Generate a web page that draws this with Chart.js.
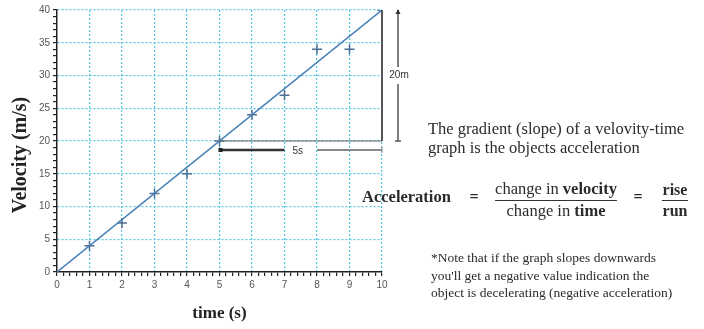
<!DOCTYPE html>
<html>
<head>
<meta charset="utf-8">
<script src="https://cdn.jsdelivr.net/npm/chart.js@4/dist/chart.umd.min.js"></script>
<style>
  html, body { margin: 0; padding: 0; background: #fff; }
  #wrap { width: 704px; height: 329px; }
</style>
</head>
<body>
<div id="wrap"><canvas id="vtChart" width="704" height="329"></canvas></div>
<script>
// measured velocity readings (m/s) at each second
const times = [1, 2, 3, 4, 5, 6, 7, 8, 9, 10];
const velocities = [4, 7.5, 12, 15, 20, 24, 27, 34, 34, 40];
// straight line of best fit
const fitTimes = [0, 10];
const fitVelocities = [0, 40];
// rise / run triangle
const runFrom = 5, runTo = 10;
const riseFrom = 20, riseTo = 40;

const GRID = '#53c6df';
const SERIF = '"Liberation Serif", "Times New Roman", serif';
const SANS = '"Liberation Sans", Arial, sans-serif';

const isWhole = v => Math.abs(v - Math.round(v)) < 1e-6;

// rise/run markers plus the explanation text beside the graph
const notesPlugin = {
    id: 'gradientNotes',
    afterDatasetsDraw(chart) {
        const ctx = chart.ctx;
        const xs = chart.scales.x, ys = chart.scales.y;
        const px = v => xs.getPixelForValue(v);
        const py = v => ys.getPixelForValue(v);

        ctx.save();
        // run (horizontal) and rise (vertical) of the triangle
        ctx.strokeStyle = '#666';
        ctx.lineWidth = 1;
        ctx.beginPath();
        ctx.moveTo(px(runFrom), py(riseFrom));
        ctx.lineTo(px(runTo), py(riseFrom));
        ctx.stroke();
        ctx.strokeStyle = '#555';
        ctx.lineWidth = 2;
        ctx.beginPath();
        ctx.moveTo(px(runTo), py(riseFrom));
        ctx.lineTo(px(runTo), py(riseTo));
        ctx.stroke();

        // "5s" measuring bar under the run
        const barY = py(riseFrom) + 9;
        ctx.strokeStyle = '#333';
        ctx.lineWidth = 2.5;
        ctx.beginPath();
        ctx.moveTo(px(runFrom), barY);
        ctx.lineTo(px(7), barY);
        ctx.stroke();
        ctx.fillStyle = '#222';
        ctx.fillRect(px(runFrom) - 1, barY - 2, 4, 4);
        ctx.strokeStyle = '#888';
        ctx.lineWidth = 2;
        ctx.beginPath();
        ctx.moveTo(px(8), barY);
        ctx.lineTo(px(runTo), barY);
        ctx.stroke();
        ctx.lineWidth = 1;
        ctx.beginPath();
        ctx.moveTo(px(runTo), barY - 3);
        ctx.lineTo(px(runTo), barY + 3);
        ctx.stroke();
        ctx.fillStyle = '#333';
        ctx.font = '10px ' + SANS;
        ctx.textAlign = 'center';
        ctx.textBaseline = 'middle';
        ctx.fillText('5s', (px(7) + px(8)) / 2 - 3, barY + 1);

        // "20m" measuring bar beside the rise
        const barX = px(runTo) + 16;
        ctx.strokeStyle = '#555';
        ctx.lineWidth = 1.5;
        ctx.beginPath();
        ctx.moveTo(barX, py(riseTo));
        ctx.lineTo(barX, py(31.3));
        ctx.moveTo(barX, py(28.7));
        ctx.lineTo(barX, py(riseFrom));
        ctx.stroke();
        ctx.fillStyle = '#333';
        ctx.beginPath();
        ctx.moveTo(barX, py(riseTo) - 1);
        ctx.lineTo(barX - 2.5, py(riseTo) + 4);
        ctx.lineTo(barX + 2.5, py(riseTo) + 4);
        ctx.fill();
        ctx.beginPath();
        ctx.moveTo(barX - 3, py(riseFrom));
        ctx.lineTo(barX + 3, py(riseFrom));
        ctx.stroke();
        ctx.fillText('20m', barX + 1, py(30));
        ctx.restore();
    },
    afterDraw(chart) {
        const ctx = chart.ctx;
        ctx.save();
        ctx.fillStyle = '#222';
        ctx.textBaseline = 'middle';

        // y axis title, set a little below the plot's middle
        ctx.save();
        ctx.translate(21, 155);
        ctx.rotate(-Math.PI / 2);
        ctx.textAlign = 'center';
        ctx.font = 'bold 20px ' + SERIF;
        ctx.fillText('Velocity (m/s)', 0, 0);
        ctx.restore();

        ctx.fillStyle = '#2b2b2b';
        ctx.textAlign = 'left';
        ctx.font = '16.5px ' + SERIF;
        ctx.fillText('The gradient (slope) of a velovity-time', 428, 130);
        ctx.fillText('graph is the objects acceleration', 428, 149);

        // Acceleration = change in velocity / change in time = rise / run
        ctx.font = 'bold 16.5px ' + SERIF;
        ctx.fillText('Acceleration', 362, 198);
        ctx.font = 'bold 16px ' + SERIF;
        ctx.textAlign = 'center';
        ctx.fillText('=', 474, 198);
        ctx.fillText('=', 638, 198);

        const fracCx = 556;
        const fs = 16.5;
        const drawMixed = (plain, bold, cy) => {
            ctx.font = fs + 'px ' + SERIF;
            const w1 = ctx.measureText(plain).width;
            ctx.font = 'bold ' + fs + 'px ' + SERIF;
            const w2 = ctx.measureText(bold).width;
            const x0 = fracCx - (w1 + w2) / 2;
            ctx.textAlign = 'left';
            ctx.font = fs + 'px ' + SERIF;
            ctx.fillText(plain, x0, cy);
            ctx.font = 'bold ' + fs + 'px ' + SERIF;
            ctx.fillText(bold, x0 + w1, cy);
            return [x0, x0 + w1 + w2];
        };
        const span = drawMixed('change in ', 'velocity', 190);
        drawMixed('change in ', 'time', 212);
        ctx.strokeStyle = '#333';
        ctx.lineWidth = 1;
        ctx.beginPath();
        ctx.moveTo(span[0], 200.5);
        ctx.lineTo(span[1], 200.5);
        ctx.stroke();

        ctx.textAlign = 'center';
        ctx.font = 'bold 16px ' + SERIF;
        ctx.fillText('rise', 675, 191);
        ctx.fillText('run', 675, 212);
        ctx.beginPath();
        ctx.moveTo(662, 200.5);
        ctx.lineTo(688, 200.5);
        ctx.stroke();

        ctx.textAlign = 'left';
        ctx.font = '13.5px ' + SERIF;
        ctx.fillText('*Note that if the graph slopes downwards', 431, 258);
        ctx.fillText("you'll get a negative value indication the", 431, 276);
        ctx.fillText('object is decelerating (negative acceleration)', 431, 293);
        ctx.restore();
    }
};

new Chart(document.getElementById('vtChart'), {
    type: 'scatter',
    data: {
        datasets: [{
            label: 'Best fit',
            data: fitTimes.map((t, i) => ({ x: t, y: fitVelocities[i] })),
            showLine: true,
            borderColor: '#4780b5',
            borderWidth: 1.5,
            pointRadius: 0
        }, {
            label: 'Velocity',
            data: times.map((t, i) => ({ x: t, y: velocities[i] })),
            pointStyle: 'cross',
            pointRadius: 5,
            borderColor: '#4d6f92',
            borderWidth: 1.5
        }]
    },
    options: {
        responsive: false,
        animation: false,
        devicePixelRatio: 1,
        layout: { padding: { left: 0, right: 322, top: 10, bottom: 0 } },
        plugins: {
            legend: { display: false },
            tooltip: { enabled: false }
        },
        scales: {
            x: {
                type: 'linear',
                min: 0,
                max: 10,
                afterFit: scale => { scale.height = 57; },
                ticks: {
                    stepSize: 0.2,
                    autoSkip: false,
                    maxRotation: 0,
                    padding: 3,
                    color: '#555',
                    font: { family: SANS, size: 10 },
                    callback: v => isWhole(v) ? String(Math.round(v)) : ''
                },
                grid: {
                    color: c => (c.tick && isWhole(c.tick.value) && c.tick.value > 0) ? GRID : 'rgba(0,0,0,0)',
                    lineWidth: 1.2,
                    tickColor: '#222',
                    tickLength: 4
                },
                border: { display: true, color: '#222', width: 1.5, dash: [2, 2] },
                title: {
                    display: true,
                    text: 'time (s)',
                    color: '#222',
                    font: { family: SERIF, size: 17, weight: 'bold' },
                    padding: { top: 0, bottom: 5 }
                }
            },
            y: {
                min: 0,
                max: 40,
                afterFit: scale => { scale.width = 57; },
                ticks: {
                    stepSize: 1,
                    autoSkip: false,
                    padding: 3,
                    color: '#555',
                    font: { family: SANS, size: 10 },
                    callback: v => (v % 5 === 0) ? String(v) : ''
                },
                grid: {
                    color: c => (c.tick && c.tick.value % 5 === 0 && c.tick.value > 0) ? GRID : 'rgba(0,0,0,0)',
                    lineWidth: 1.2,
                    tickColor: '#222',
                    tickLength: 4
                },
                border: { display: true, color: '#222', width: 1.5, dash: [2, 2] }
            }
        }
    },
    plugins: [notesPlugin]
});
</script>
</body>
</html>
